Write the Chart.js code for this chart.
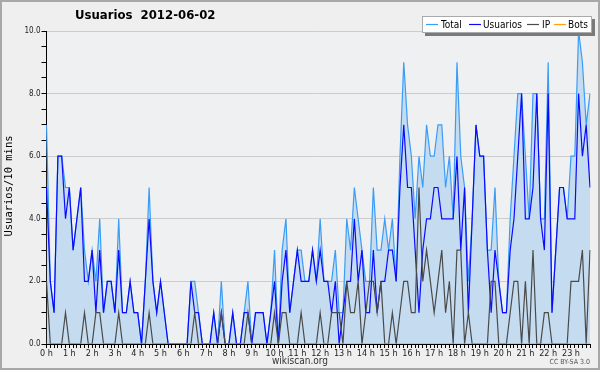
<!DOCTYPE html>
<html>
<head>
<meta charset="utf-8">
<script src="https://cdn.jsdelivr.net/npm/chart.js@4.4.1/dist/chart.umd.min.js"></script>
<style>
  html, body { margin: 0; padding: 0; background: #efefef; }
  #wrap { width: 600px; height: 370px; }
</style>
</head>
<body>
<div id="wrap"><canvas id="myChart" width="600" height="370"></canvas></div>
<script>
// * data (one value per 10 minutes, 144 slots)
const hourLabels = ["0 h","1 h","2 h","3 h","4 h","5 h","6 h","7 h","8 h","9 h","10 h","11 h",
  "12 h","13 h","14 h","15 h","16 h","17 h","18 h","19 h","20 h","21 h","22 h","23 h"];

const total = [
  7,2,1,6,6,5, 5,3,4,5,3,2, 3,2,4,1,2,2, 1,4,1,1,2,1,
  1,0,2,5,2,1, 2,1,0,0,0,0, 0,0,2,2,1,0, 0,0,1,0,2,0,
  0,1,0,0,1,2, 0,1,1,1,0,1, 3,0,3,4,1,2, 3,3,2,2,3,2,
  4,2,2,2,3,1, 1,4,3,5,4,3, 2,2,5,3,3,4, 3,4,2,6,9,7,
  6,4,6,5,7,6, 6,7,7,5,6,4, 9,6,5,2,4,7, 6,6,3,3,5,2,
  1,1,4,6,8,8, 6,4,8,8,4,4, 9,1,3,5,5,4, 6,6,10,9,7,8
];
const usuarios = [
  5,2,1,6,6,4, 5,3,4,5,2,2, 3,1,3,1,2,2, 1,3,1,1,2,1,
  1,0,2,4,2,1, 2,1,0,0,0,0, 0,0,2,1,1,0, 0,0,1,0,1,0,
  0,1,0,0,1,1, 0,1,1,1,0,1, 2,0,2,3,1,2, 3,2,2,2,3,2,
  3,2,2,1,2,0, 1,2,2,4,2,3, 1,1,3,1,2,2, 3,3,2,5,7,5,
  5,3,1,3,4,4, 5,5,4,4,4,4, 6,3,5,1,4,7, 6,6,3,1,3,2,
  1,1,3,4,6,8, 4,4,5,8,4,3, 8,1,3,5,5,4, 4,4,8,6,7,5
];
const ip = [
  2,0,0,0,0,1, 0,0,0,0,1,0, 0,1,1,0,0,0, 0,1,0,0,0,0,
  0,0,0,1,0,0, 0,0,0,0,0,0, 0,0,0,1,0,0, 0,0,0,0,1,0,
  0,0,0,0,0,1, 0,0,0,0,0,0, 1,0,1,1,0,0, 0,1,0,0,0,0,
  1,0,0,1,1,1, 0,2,1,1,2,0, 1,2,2,1,2,0, 0,1,0,1,2,2,
  1,1,5,2,3,2, 1,2,3,1,2,0, 3,3,0,1,0,0, 0,0,0,2,2,0,
  0,0,1,2,2,0, 2,0,3,0,0,1, 1,0,0,0,0,0, 2,2,2,3,0,3
];
const bots = new Array(144).fill(0);

// one category per 10 min slot, hour label on the first slot of each hour
const slots = [];
hourLabels.forEach((h) => slots.push(h, "", "", "", "", ""));

const FONT = "'DejaVu Sans Condensed', 'DejaVu Sans', sans-serif";

// legend sample / text x positions, in legend order
const legendX = [[426, 441], [469, 483], [527, 542], [554, 568]];

// * frame, titles, legend and footer
const decor = {
  id: "decor",
  beforeDraw(chart) {
    const c = chart.ctx;
    c.save();
    c.fillStyle = "#efefef";
    c.fillRect(0, 0, chart.width, chart.height);
    const a = chart.chartArea;
    c.fillStyle = "#eef0f2";
    c.fillRect(a.left, a.top, a.right - a.left, a.bottom - a.top);
    c.restore();
  },
  afterDraw(chart) {
    const c = chart.ctx;
    c.save();
    // outer frame
    c.strokeStyle = "#a8a8a8";
    c.lineWidth = 2;
    c.strokeRect(1, 1, chart.width - 2, chart.height - 2);

    // title
    c.fillStyle = "#000";
    c.font = "bold 13px " + FONT;
    c.textBaseline = "middle";
    c.textAlign = "left";
    c.fillText("Usuarios  2012-06-02", 75, 16);

    // y title
    c.save();
    c.translate(9, 186);
    c.rotate(-Math.PI / 2);
    c.font = "10.5px 'DejaVu Sans Mono', monospace";
    c.textAlign = "center";
    c.fillText("Usuarios/10 mins", 0, 0);
    c.restore();

    // footer
    c.font = "10px " + FONT;
    c.textAlign = "center";
    c.fillStyle = "#333";
    c.fillText("wikiscan.org", 300, 361);
    c.font = "7px " + FONT;
    c.textAlign = "right";
    c.fillStyle = "#555";
    c.fillText("CC BY-SA 3.0", 590, 362);

    // legend box with shadow
    const lx = 422, ly = 16, lw = 170, lh = 17;
    c.fillStyle = "#7a7a7a";
    c.fillRect(lx + 3, ly + 3, lw, lh);
    c.fillStyle = "#fff";
    c.fillRect(lx, ly, lw, lh);
    c.strokeStyle = "#aaa";
    c.lineWidth = 1;
    c.strokeRect(lx + 0.5, ly + 0.5, lw - 1, lh - 1);
    c.font = "10px " + FONT;
    c.textAlign = "left";
    const items = chart.data.datasets.slice().reverse();
    items.forEach((ds, k) => {
      const [sx, tx] = legendX[k];
      c.strokeStyle = ds.borderColor;
      c.lineWidth = 1.2;
      c.beginPath();
      c.moveTo(sx, ly + lh / 2);
      c.lineTo(sx + 12, ly + lh / 2);
      c.stroke();
      c.fillStyle = "#000";
      c.fillText(ds.label, tx, ly + lh / 2 + 0.5);
    });
    c.restore();
  },
};

const lineStyle = { tension: 0, pointRadius: 0, borderWidth: 1.2, fill: false };

// datasets listed top-most first: Total is drawn underneath
const data = {
  labels: slots,
  datasets: [
    { label: "Bots", data: bots, borderColor: "#ffa000", ...lineStyle },
    { label: "IP", data: ip, borderColor: "#4a4a4a", ...lineStyle },
    { label: "Usuarios", data: usuarios, borderColor: "#0a0aff", ...lineStyle },
    {
      label: "Total",
      data: total,
      borderColor: "#3a9cf5",
      backgroundColor: "#c5dcf0",
      ...lineStyle,
      fill: "origin",
    },
  ],
};

const config = {
  type: "line",
  data: data,
  plugins: [decor],
  options: {
    responsive: false,
    animation: false,
    layout: { padding: { top: 31, right: 10, left: 0, bottom: 0 } },
    plugins: {
      legend: { display: false },
      title: { display: false },
      tooltip: { enabled: false },
    },
    scales: {
      x: {
        offset: false,
        afterFit: (s) => { s.height = 26; },
        border: { color: "#000", width: 1 },
        grid: { drawOnChartArea: false, color: "#000", tickLength: 4 },
        ticks: {
          autoSkip: false,
          maxRotation: 0,
          padding: 0,
          color: "#222",
          font: { family: FONT, size: 9 },
          callback: (v, i) => slots[i],
        },
      },
      y: {
        min: 0,
        max: 10,
        afterFit: (s) => { s.width = 46.5; },
        border: { color: "#000", width: 1 },
        grid: {
          color: (ctx) => (ctx.tick && ctx.tick.value % 2 === 0 ? "#cccccc" : "rgba(0,0,0,0)"),
          tickColor: "#000",
          tickLength: 5,
        },
        ticks: {
          stepSize: 0.5,
          autoSkip: false,
          padding: 1,
          color: "#222",
          font: { family: FONT, size: 8 },
          callback: (v) => (v % 2 === 0 ? v.toFixed(1) : ""),
        },
      },
    },
  },
};

let chart = new Chart("myChart", config);
</script>
</body>
</html>
